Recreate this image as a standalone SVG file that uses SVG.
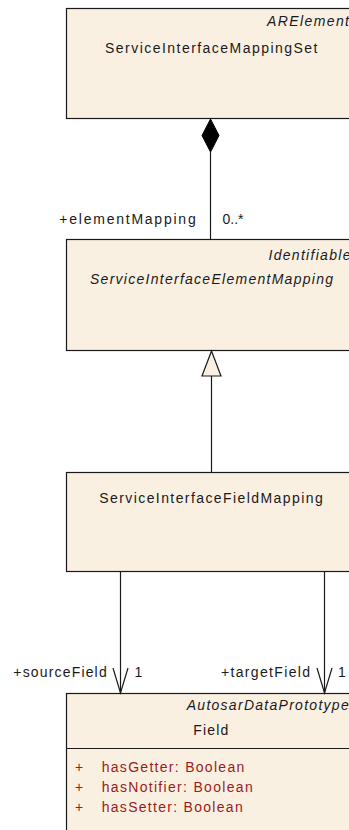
<svg xmlns="http://www.w3.org/2000/svg" width="349" height="830" viewBox="0 0 349 830">
<style>
.box{fill:#FAF0E1;stroke:#1a1a1a;stroke-width:1.2}
.t{font-family:"Liberation Sans",Arial,sans-serif;font-size:14px;fill:#1a1a1a}
.i{font-style:italic}
.a{fill:#9B1C1C}
.ln{stroke:#1a1a1a;stroke-width:1.2;fill:none}
</style>
<rect width="349" height="830" fill="#ffffff"/>
<g id="ServiceInterfaceMappingSet">
<rect class="box" x="66.5" y="8.5" width="340" height="110"/>
<text class="t i" x="267" y="26" textLength="82" lengthAdjust="spacing">ARElement</text>
<text class="t" x="105" y="52.5" textLength="212.5" lengthAdjust="spacing">ServiceInterfaceMappingSet</text>
</g>
<g id="ServiceInterfaceElementMapping">
<rect class="box" x="66.5" y="239.5" width="340" height="111"/>
<text class="t i" x="268.5" y="260" textLength="82" lengthAdjust="spacing">Identifiable</text>
<text class="t i" x="90" y="283.5" textLength="243" lengthAdjust="spacing">ServiceInterfaceElementMapping</text>
</g>
<g id="ServiceInterfaceFieldMapping">
<rect class="box" x="66.5" y="472.5" width="340" height="99"/>
<text class="t" x="99.3" y="502.5" textLength="223.4" lengthAdjust="spacing">ServiceInterfaceFieldMapping</text>
</g>
<g id="Field">
<rect class="box" x="66.5" y="693.5" width="340" height="160"/>
<line class="ln" x1="66.5" y1="748.5" x2="406" y2="748.5"/>
<text class="t i" x="186.7" y="710" textLength="162" lengthAdjust="spacing">AutosarDataPrototype</text>
<text class="t" x="193.3" y="735" textLength="35" lengthAdjust="spacing">Field</text>
<text class="t a" x="75" y="771.7">+</text>
<text class="t a" x="101.7" y="771.7" textLength="142.6" lengthAdjust="spacing">hasGetter: Boolean</text>
<text class="t a" x="75" y="791.7">+</text>
<text class="t a" x="101.7" y="791.7" textLength="151" lengthAdjust="spacing">hasNotifier: Boolean</text>
<text class="t a" x="75" y="811.7">+</text>
<text class="t a" x="101.7" y="811.7" textLength="141" lengthAdjust="spacing">hasSetter: Boolean</text>
</g>
<g id="connectors">
<line class="ln" x1="210.5" y1="152" x2="210.5" y2="239.5"/>
<polygon points="210.5,119 219,135.5 210.5,152 202,135.5" fill="#000" stroke="#000" stroke-width="1"/>
<text class="t" x="59.3" y="224.3" textLength="136.4" lengthAdjust="spacing">+elementMapping</text>
<text class="t" x="222.5" y="224.3">0..*</text>
<line class="ln" x1="211.5" y1="376" x2="211.5" y2="472.5"/>
<polygon points="211.5,351 221,376 202,376" fill="#FAF0E1" stroke="#1a1a1a" stroke-width="1.2"/>
<line class="ln" x1="120.5" y1="572" x2="120.5" y2="693"/>
<polyline class="ln" points="113,668 120.5,693 128,668"/>
<line class="ln" x1="324.5" y1="572" x2="324.5" y2="693"/>
<polyline class="ln" points="317,668 324.5,693 332,668"/>
<text class="t" x="13.3" y="676.7" textLength="93.4" lengthAdjust="spacing">+sourceField</text>
<text class="t" x="134.5" y="676.7">1</text>
<text class="t" x="221" y="676.7" textLength="89" lengthAdjust="spacing">+targetField</text>
<text class="t" x="338" y="676.7">1</text>
</g>
</svg>
